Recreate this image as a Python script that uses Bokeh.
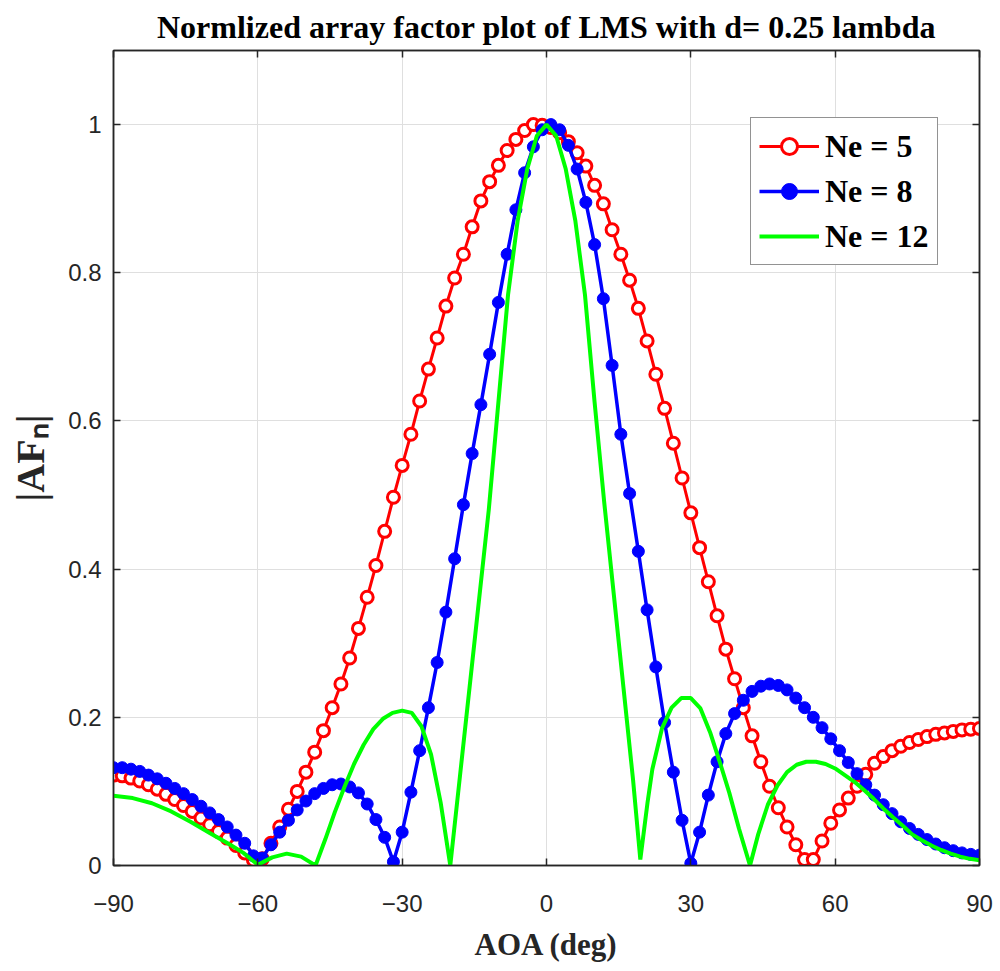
import numpy as np
from bokeh.plotting import figure
from bokeh.models import (FixedTicker, LinearAxis, Legend, LegendItem, Range1d,
                          CustomJSTickFormatter)
from bokeh.embed import file_html
from bokeh.resources import INLINE

# sampling grid of the two marked series (100 angles from -90 to 90 deg)
aoa = np.linspace(-90, 90, 100)

af_ne5 = [0.122, 0.121, 0.118, 0.114, 0.109, 0.103, 0.096, 0.089, 0.081, 0.073,
          0.064, 0.055, 0.046, 0.037, 0.027, 0.017, 0.007, 0.009, 0.030, 0.052,
          0.076, 0.100, 0.126, 0.153, 0.182, 0.213, 0.245, 0.280, 0.320, 0.362,
          0.405, 0.451, 0.497, 0.540, 0.582, 0.627, 0.670, 0.712, 0.755, 0.793,
          0.825, 0.862, 0.897, 0.923, 0.945, 0.965, 0.980, 0.992, 1.000, 0.999,
          0.996, 0.989, 0.977, 0.962, 0.944, 0.918, 0.893, 0.858, 0.825, 0.790,
          0.752, 0.708, 0.663, 0.617, 0.570, 0.523, 0.476, 0.429, 0.383, 0.337,
          0.292, 0.252, 0.213, 0.175, 0.140, 0.107, 0.078, 0.052, 0.028, 0.008,
          0.008, 0.033, 0.057, 0.075, 0.091, 0.107, 0.123, 0.138, 0.147, 0.155,
          0.161, 0.166, 0.170, 0.174, 0.177, 0.179, 0.181, 0.183, 0.184, 0.185]

af_ne8 = [0.132, 0.132, 0.130, 0.127, 0.122, 0.117, 0.111, 0.104, 0.097, 0.089,
          0.080, 0.071, 0.062, 0.052, 0.041, 0.030, 0.013, 0.010, 0.028, 0.045,
          0.061, 0.075, 0.087, 0.097, 0.104, 0.109, 0.110, 0.106, 0.098, 0.083,
          0.062, 0.038, 0.005, 0.045, 0.099, 0.155, 0.213, 0.274, 0.342, 0.414,
          0.487, 0.556, 0.622, 0.690, 0.760, 0.825, 0.885, 0.935, 0.970, 0.993,
          1.000, 0.993, 0.972, 0.940, 0.895, 0.838, 0.765, 0.675, 0.582, 0.502,
          0.424, 0.345, 0.268, 0.193, 0.126, 0.061, 0.003, 0.045, 0.095, 0.140,
          0.178, 0.205, 0.223, 0.235, 0.242, 0.245, 0.243, 0.237, 0.226, 0.213,
          0.200, 0.186, 0.171, 0.155, 0.139, 0.124, 0.109, 0.095, 0.082, 0.070,
          0.059, 0.050, 0.042, 0.035, 0.029, 0.024, 0.020, 0.017, 0.015, 0.014]

aoa_ne12 = [-90, -86, -82, -78, -74, -70, -66, -63, -60, -57, -54, -51, -48, -46,
            -44, -42, -40, -38, -36, -34, -32, -30, -28, -26, -24, -22, -20, -18,
            -16, -14, -12, -10, -8, -6, -4, -2, 0, 2, 4, 6, 8, 10, 12, 14, 16, 18,
            19.5, 21, 22, 24, 26, 28, 30, 32, 34, 36, 38, 40, 42.3, 44, 46, 48, 50,
            52, 54, 56, 58, 60, 62, 64, 66, 68, 70, 72, 74, 76, 78, 80, 82, 84, 86,
            88, 90]
af_ne12 = [0.094, 0.091, 0.084, 0.073, 0.059, 0.044, 0.029, 0.017, 0.001, 0.011,
           0.016, 0.012, 0.000, 0.035, 0.072, 0.106, 0.137, 0.163, 0.184, 0.198,
           0.206, 0.209, 0.206, 0.188, 0.150, 0.085, 0.000, 0.120, 0.240, 0.360,
           0.480, 0.625, 0.770, 0.870, 0.940, 0.985, 1.000, 0.985, 0.940, 0.870,
           0.770, 0.625, 0.490, 0.365, 0.240, 0.115, 0.008, 0.085, 0.130, 0.185,
           0.213, 0.226, 0.226, 0.212, 0.180, 0.140, 0.098, 0.050, 0.000, 0.042,
           0.082, 0.108, 0.126, 0.136, 0.140, 0.140, 0.137, 0.131, 0.122, 0.113,
           0.102, 0.090, 0.077, 0.065, 0.054, 0.042, 0.034, 0.027, 0.021, 0.016,
           0.012, 0.009, 0.007]

series_labels = ["Ne = 5", "Ne = 8", "Ne = 12"]
x_ticks = [-90, -60, -30, 0, 30, 60, 90]
y_ticks = [0, 0.2, 0.4, 0.6, 0.8, 1]

AX = "#262626"
GRID = "#dfdfdf"

p = figure(width=1000, height=971, x_range=Range1d(-90, 90), y_range=Range1d(0, 1.1),
           output_backend="svg", toolbar_location=None,
           min_border_left=113, min_border_right=21, min_border_top=50,
           min_border_bottom=106)

p.title.text = "Normlized array factor plot of LMS with d= 0.25 lambda"
p.title.align = "center"
p.title.text_font = "Liberation Serif"
p.title.text_font_style = "bold"
p.title.text_font_size = "32px"
p.title.text_color = "#000000"
p.title.standoff = 12

p.outline_line_color = AX
p.outline_line_width = 1.5
p.background_fill_color = "white"
p.border_fill_color = "white"

p.xgrid.ticker = FixedTicker(ticks=x_ticks)
p.ygrid.ticker = FixedTicker(ticks=y_ticks)
p.grid.grid_line_color = GRID
p.grid.grid_line_width = 1


def style_axis(ax):
    ax.axis_line_color = AX
    ax.axis_line_width = 1.5
    ax.major_tick_line_color = AX
    ax.major_tick_line_width = 1.5
    ax.major_tick_in = 7
    ax.major_tick_out = 0
    ax.minor_tick_line_color = None
    ax.major_label_text_font = "Liberation Sans"
    ax.major_label_text_font_size = "24px"
    ax.major_label_text_color = AX


xa = p.xaxis[0]
style_axis(xa)
xa.ticker = FixedTicker(ticks=x_ticks)
xa.major_label_standoff = 29
xa.axis_label = "AOA (deg)"
xa.axis_label_text_font = "Liberation Serif"
xa.axis_label_text_font_style = "bold"
xa.axis_label_text_font_size = "31px"
xa.axis_label_text_color = AX
xa.axis_label_standoff = 12

ya = p.yaxis[0]
style_axis(ya)
ya.ticker = FixedTicker(ticks=y_ticks)
ya.major_label_standoff = 12
ya.major_label_overrides = {0: "0", 1: "1"}
ya.axis_label = "|AF\u2099|"
ya.axis_label_text_font = "Liberation Serif"
ya.axis_label_text_font_style = "bold"
ya.axis_label_text_font_size = "40px"
ya.axis_label_text_color = AX
ya.axis_label_standoff = 12

blank = CustomJSTickFormatter(code="return ''")
top_ax = LinearAxis(ticker=FixedTicker(ticks=x_ticks), formatter=blank)
style_axis(top_ax)
top_ax.major_label_standoff = 0
right_ax = LinearAxis(ticker=FixedTicker(ticks=y_ticks), formatter=blank)
style_axis(right_ax)
right_ax.major_label_standoff = 0
p.add_layout(top_ax, "above")
p.add_layout(right_ax, "right")

r5l = p.line(aoa, af_ne5, line_color="#ff0000", line_width=3)
r5m = p.scatter(aoa, af_ne5, marker="circle", size=12, line_color="#ff0000",
                fill_color="white", line_width=3)
r8l = p.line(aoa, af_ne8, line_color="#0000ff", line_width=3.5)
r8m = p.scatter(aoa, af_ne8, marker="circle", size=12, line_color="#0000ff",
                fill_color="#0000ff", line_width=1)
r12l = p.line(aoa_ne12, af_ne12, line_color="#00ff00", line_width=4)

legend = Legend(items=[LegendItem(label=series_labels[0], renderers=[r5l, r5m]),
                       LegendItem(label=series_labels[1], renderers=[r8l, r8m]),
                       LegendItem(label=series_labels[2], renderers=[r12l])],
                location=(637, 600))
legend.margin = 0
legend.padding = 8
legend.spacing = 5
legend.glyph_width = 60
legend.glyph_height = 40
legend.label_height = 40
legend.label_standoff = 6
legend.label_text_font = "Liberation Serif"
legend.label_text_font_style = "bold"
legend.label_text_font_size = "32px"
legend.label_text_color = "#000000"
legend.border_line_color = AX
legend.border_line_width = 1.5
legend.background_fill_color = "white"
legend.background_fill_alpha = 1
p.add_layout(legend, "center")

open("out.html", "w").write(file_html(p, INLINE))
